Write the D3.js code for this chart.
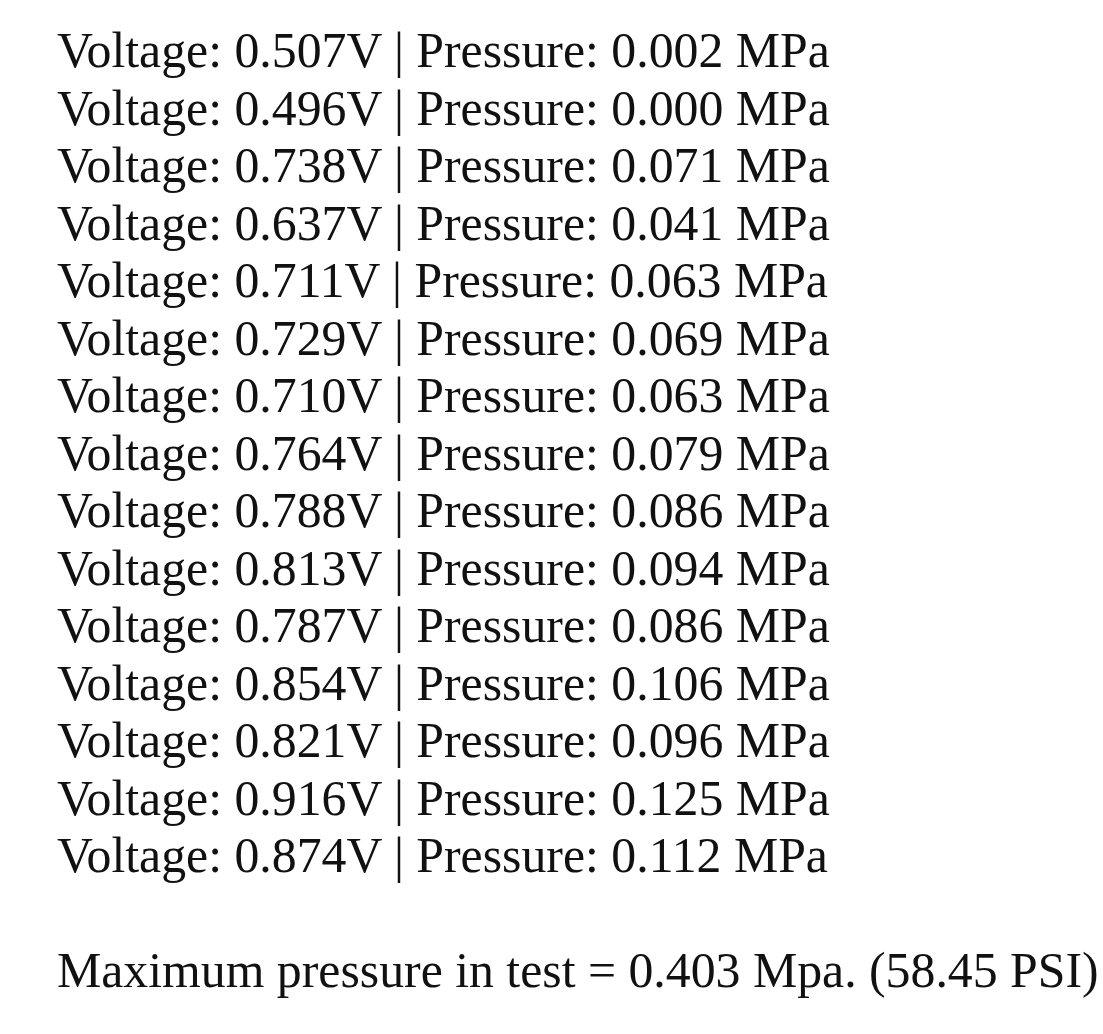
<!DOCTYPE html>
<html><head><meta charset="utf-8">
<script src="https://cdn.jsdelivr.net/npm/d3@7"></script>
<style>body{margin:0;background:#fff}</style></head>
<body><script>
const voltages = ["0.507","0.496","0.738","0.637","0.711","0.729","0.710","0.764","0.788","0.813","0.787","0.854","0.821","0.916","0.874"];
const pressures = ["0.002","0.000","0.071","0.041","0.063","0.069","0.063","0.079","0.086","0.094","0.086","0.106","0.096","0.125","0.112"];
const summary = "Maximum pressure in test = 0.403 Mpa. (58.45 PSI)";

const W = 1103, H = 1034;
const svg = d3.select("body").append("svg").attr("width", W).attr("height", H);
const y = d3.scaleLinear().domain([0, 14]).range([67, 872]);
const g = svg.append("g").attr("font-family", "Liberation Serif, Times New Roman, serif").attr("fill", "#111");
const lines = g.selectAll("text.row").data(voltages).join("text").attr("class","row")
  .attr("x", 57).attr("y", (d,i) => y(i)).attr("font-size", 46)
  .text((d,i) => `Voltage: ${d}V | Pressure: ${pressures[i]} MPa`);
const sum = g.append("text").attr("x", 57).attr("y", 987).attr("font-size", 46).text(summary);
// calibrate font size to reference width (first line ~773px)
const w = lines.node().getComputedTextLength();
const fs = 46 * 773 / w;
lines.attr("font-size", fs);
sum.attr("font-size", fs);
</script></body></html>
